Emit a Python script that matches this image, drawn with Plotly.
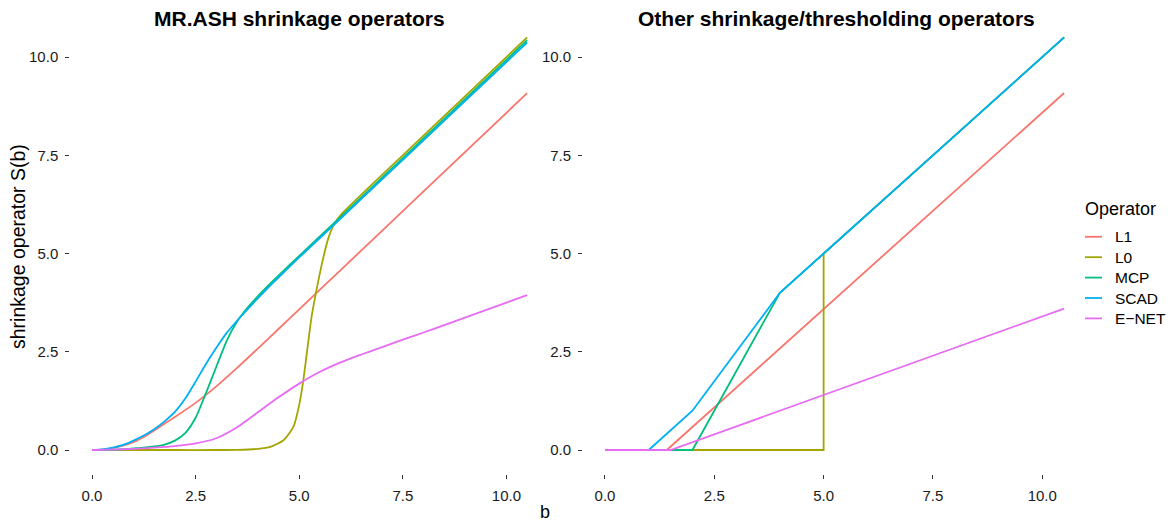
import plotly.graph_objects as go

# ---- MR.ASH posterior-mean shrinkage operators (left panel) ----
ash_l1_b = [0, 0.25, 0.5, 0.75, 1.0, 1.25, 1.5, 2.0, 2.5, 3.0, 3.5, 4.0, 4.5, 5.0, 6.0, 8.0, 10.5]
ash_l1_s = [0, 0.012, 0.05, 0.11, 0.2, 0.33, 0.5, 0.84, 1.2, 1.62, 2.09, 2.58, 3.08, 3.58,
            4.58, 6.58, 9.08]

ash_l0_b = [0, 1, 2, 3, 3.5, 4.0, 4.3, 4.62, 4.86, 5.0, 5.1, 5.2, 5.3, 5.4,
            5.55, 5.7, 5.85, 6.0, 6.5, 7.0, 8.0, 9.0, 10.5]
ash_l0_s = [0, 0, 0, 0, 0.005, 0.03, 0.08, 0.25, 0.59, 1.15, 1.78, 2.6, 3.4, 3.98,
            4.75, 5.38, 5.76, 5.98, 6.5, 7.0, 8.0, 9.0, 10.5]

ash_mcp_b = [0, 0.25, 0.5, 0.75, 1.0, 1.25, 1.5, 1.75, 2.0, 2.25, 2.5, 2.75, 3.0, 3.25,
             3.5, 3.75, 4.0, 4.25, 4.5, 5.0, 6.0, 7.0, 8.0, 9.0, 10.5]
ash_mcp_s = [0, 0.002, 0.01, 0.02, 0.04, 0.06, 0.09, 0.14, 0.24, 0.43, 0.82, 1.45, 2.12, 2.78,
             3.27, 3.62, 3.91, 4.18, 4.44, 4.94, 5.93, 6.93, 7.93, 8.93, 10.43]

ash_scad_b = [0, 0.25, 0.5, 0.75, 1.0, 1.25, 1.5, 1.75, 2.0, 2.25, 2.5, 2.75, 3.0, 3.25,
              3.5, 3.75, 4.0, 4.25, 4.5, 5.0, 6.0, 7.0, 8.0, 9.0, 10.5]
ash_scad_s = [0, 0.015, 0.06, 0.13, 0.24, 0.37, 0.53, 0.73, 0.97, 1.31, 1.74, 2.19, 2.6, 2.98,
              3.29, 3.58, 3.86, 4.13, 4.39, 4.9, 5.89, 6.89, 7.88, 8.88, 10.37]

ash_enet_b = [0, 0.5, 1.0, 1.5, 2.0, 2.5, 3.0, 3.5, 4.0, 4.5, 5.0, 5.5, 6.0, 6.5, 7.0,
              7.5, 8.0, 8.5, 9.0, 9.5, 10.0, 10.5]
ash_enet_s = [0, 0.01, 0.03, 0.06, 0.1, 0.17, 0.30, 0.58, 0.96, 1.34, 1.69, 1.99, 2.23, 2.43,
              2.62, 2.81, 2.99, 3.18, 3.37, 3.56, 3.75, 3.94]

# ---- classical shrinkage / thresholding operators (right panel) ----
l1_b = [0, 1.414, 10.5]
l1_s = [0, 0, 9.086]

l0_b = [0, 5, 5, 10.5]
l0_s = [0, 0, 5, 10.5]

mcp_b = [0, 2, 4, 10.5]
mcp_s = [0, 0, 4, 10.5]

scad_b = [0, 1, 2, 4, 10.5]
scad_s = [0, 0, 1, 4, 10.5]

enet_b = [0, 1.5, 10.5]
enet_s = [0, 0, 3.6]

operators = ["L1", "L0", "MCP", "SCAD", "E\u2212NET"]
colors = ["#F8766D", "#A3A500", "#00BF7D", "#00B0F6", "#E76BF3"]

tick_vals = [0, 2.5, 5, 7.5, 10]
tick_text = ["0.0", "2.5", "5.0", "7.5", "10.0"]

W, H = 1170, 527
FONT = "Liberation Sans, Arial, Helvetica, sans-serif"

left_series = [(ash_l1_b, ash_l1_s), (ash_l0_b, ash_l0_s), (ash_mcp_b, ash_mcp_s),
               (ash_scad_b, ash_scad_s), (ash_enet_b, ash_enet_s)]
right_series = [(l1_b, l1_s), (l0_b, l0_s), (mcp_b, mcp_s),
                (scad_b, scad_s), (enet_b, enet_s)]

fig = go.Figure()
for name, col, (bx, sy) in zip(operators, colors, left_series):
    fig.add_trace(go.Scatter(x=bx, y=sy, mode="lines", name=name,
                             line=dict(color=col, width=1.8, shape="spline", smoothing=0.6),
                             xaxis="x", yaxis="y", showlegend=False))
for name, col, (bx, sy) in zip(operators, colors, right_series):
    fig.add_trace(go.Scatter(x=bx, y=sy, mode="lines", name=name,
                             line=dict(color=col, width=1.8),
                             xaxis="x2", yaxis="y2", showlegend=False))


def px_x(p):
    return p / W


def px_y(p):
    return 1 - p / H


axis_common = dict(showgrid=False, zeroline=False, showline=False,
                   ticks="outside", ticklen=4, tickwidth=1, tickcolor="#333333",
                   tickvals=tick_vals, ticktext=tick_text,
                   tickfont=dict(family=FONT, size=15, color="#1a1a1a"),
                   ticklabelstandoff=4)

y_dom = [px_y(473.6), px_y(25.6)]
fig.update_layout(
    width=W, height=H, autosize=False,
    margin=dict(l=0, r=0, t=0, b=0),
    paper_bgcolor="white", plot_bgcolor="white",
    xaxis=dict(domain=[px_x(70.24), px_x(548.9)], range=[-0.525, 11.025],
               anchor="y", **axis_common),
    yaxis=dict(domain=y_dom, range=[-0.6, 10.8], anchor="x", **axis_common),
    xaxis2=dict(domain=[px_x(583.1), px_x(1086)], range=[-0.5, 11.0],
                anchor="y2", **axis_common),
    yaxis2=dict(domain=y_dom, range=[-0.6, 10.8], anchor="x2", **axis_common),
    showlegend=False,
)

annotations = [
    dict(text="<b>MR.ASH shrinkage operators</b>", x=px_x(299.5), y=px_y(18),
         font=dict(size=21, family=FONT, color="black")),
    dict(text="<b>Other shrinkage/thresholding operators</b>", x=px_x(836), y=px_y(18),
         font=dict(size=21, family=FONT, color="black")),
    dict(text="shrinkage operator S(b)", x=px_x(18), y=px_y(247), textangle=-90,
         font=dict(size=19.5, family=FONT, color="black")),
    dict(text="b", x=px_x(545), y=px_y(512),
         font=dict(size=18, family=FONT, color="black")),
    dict(text="Operator", x=px_x(1083), y=px_y(208.5), xanchor="left",
         font=dict(size=18, family=FONT, color="black")),
]
for a in annotations:
    a.setdefault("xanchor", "center")
    a.update(xref="paper", yref="paper", yanchor="middle", showarrow=False)

# legend keys
legend_y = [236.8, 257.2, 277.6, 298.0, 318.4]
shapes = []
for name, col, ly in zip(operators, colors, legend_y):
    shapes.append(dict(type="line", xref="paper", yref="paper",
                       x0=px_x(1085), x1=px_x(1102), y0=px_y(ly), y1=px_y(ly),
                       line=dict(color=col, width=1.8)))
    annotations.append(dict(text=name, xref="paper", yref="paper",
                            x=px_x(1113), y=px_y(ly), xanchor="left", yanchor="middle",
                            showarrow=False,
                            font=dict(size=15.5, family=FONT, color="black")))

fig.update_layout(annotations=annotations, shapes=shapes)
fig.write_html("out.html")
